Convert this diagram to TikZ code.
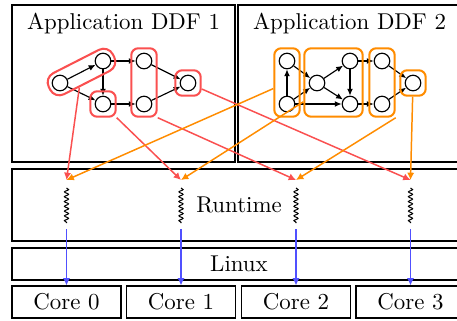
\documentclass[tikz,border=0pt]{standalone}
\usetikzlibrary{arrows.meta,fit,decorations.pathmorphing}
\definecolor{ddfred}{RGB}{250,80,80}
\definecolor{ddforange}{RGB}{255,140,0}
\definecolor{ddfblue}{RGB}{80,80,255}

\begin{document}
\begin{tikzpicture}[x=0.437pt,y=-0.437pt,
    actor/.style={draw,circle,minimum size=6.8pt,inner sep=0pt,line width=0.5pt},
    flow/.style={-{Latex[length=3pt,width=2.6pt]},line width=0.5pt},
    layer/.style={draw,line width=0.5pt,inner sep=0pt},
    grp/.style={draw,rounded corners=3pt,inner sep=1.9pt,line width=0.9pt},
    map/.style={-{Latex[length=3.2pt,width=3.2pt]},line width=0.65pt},
    tocore/.style={-{Latex[length=3.2pt,width=3.2pt]},line width=0.7pt,ddfblue},
    wiggle/.style={decorate,decoration={snake,amplitude=0.9pt,segment length=2.1pt},line width=0.45pt},
  ]
  \clip (0,0) rectangle (457,320);

  % layers
  \node[layer,minimum width=97.5pt,minimum height=68.6pt] (app1) at (123.5,83.5) {};
  \node[layer,minimum width=97.5pt,minimum height=68.6pt] (app2) at (349.5,83.5) {};
  \node[anchor=base] (title1) at (123.5,29) {Application DDF 1};
  \node[anchor=base] (title2) at (349.5,29) {Application DDF 2};
  \node[layer,minimum width=198.4pt,minimum height=31.5pt] (runtime) at (239,205) {Runtime};
  \node[layer,minimum width=198.4pt,minimum height=14pt] (linux) at (239,264) {Linux};
  \foreach \i/\x in {0/66.5,1/181,2/296,3/410.5} {
    \node[layer,minimum width=47.6pt,minimum height=14pt] (core\i) at (\x,302) {Core \i};
    \coordinate (in\i) at (\x,180);
    \coordinate (wa\i) at (\x,188);
    \coordinate (wb\i) at (\x,223);
    \coordinate (go\i) at (\x,229);
  }

  % DDF 1
  \node[actor] (a1) at (60,83) {};
  \node[actor] (a2) at (103,61) {};
  \node[actor] (a3) at (103,104) {};
  \node[actor] (a4) at (144,61) {};
  \node[actor] (a5) at (144,104) {};
  \node[actor] (a6) at (188,83) {};
  \draw[flow] (a1) -- (a2);
  \draw[flow] (a1) -- (a3);
  \draw[flow] (a2) -- (a3);
  \draw[flow] (a2) -- (a4);
  \draw[flow] (a3) -- (a5);
  \draw[flow] (a4) -- (a6);
  \draw[flow] (a5) -- (a6);
  \node[grp,ddfred,rounded corners=4.5pt,rotate fit=27,fit=(a1)(a2)] (r1) {};
  \node[grp,ddfred,fit=(a3)] (r2) {};
  \node[grp,ddfred,fit=(a4)(a5)] (r3) {};
  \node[grp,ddfred,fit=(a6)] (r4) {};

  % DDF 2
  \node[actor] (b1) at (287,61) {};
  \node[actor] (b2) at (287,104) {};
  \node[actor] (b3) at (317,83) {};
  \node[actor] (b4) at (350,61) {};
  \node[actor] (b5) at (350,104) {};
  \node[actor] (b6) at (382,61) {};
  \node[actor] (b7) at (382,104) {};
  \node[actor] (b8) at (413,83) {};
  \draw[flow] (b2) -- (b1);
  \draw[flow] (b1) -- (b3);
  \draw[flow] (b2) -- (b3);
  \draw[flow] (b2) -- (b5);
  \draw[flow] (b3) -- (b4);
  \draw[flow] (b3) -- (b5);
  \draw[flow] (b4) -- (b5);
  \draw[flow] (b4) -- (b6);
  \draw[flow] (b5) -- (b7);
  \draw[flow] (b6) -- (b8);
  \draw[flow] (b7) -- (b8);
  \node[grp,ddforange,fit=(b1)(b2)] (o1) {};
  \node[grp,ddforange,fit=(b3)(b4)(b5)] (o2) {};
  \node[grp,ddforange,fit=(b6)(b7)] (o3) {};
  \node[grp,ddforange,fit=(b8)] (o4) {};

  % mapping
  \draw[map,ddfred] (r1) -- (in0);
  \draw[map,ddfred] (r2.south east) -- (in1);
  \draw[map,ddfred] (r3.south east) -- (in2);
  \draw[map,ddfred] (r4) -- (in3);
  \draw[map,ddforange] (o1) -- (in0);
  \draw[map,ddforange] (o2) -- (in1);
  \draw[map,ddforange] (o3.south east) -- (in2);
  \draw[map,ddforange] (o4) -- (in3);
  \foreach \i in {0,...,3} {
    \draw[wiggle] (wa\i) -- (wb\i);
    \draw[tocore] (go\i) -- (core\i);
  }
\end{tikzpicture}
\end{document}
